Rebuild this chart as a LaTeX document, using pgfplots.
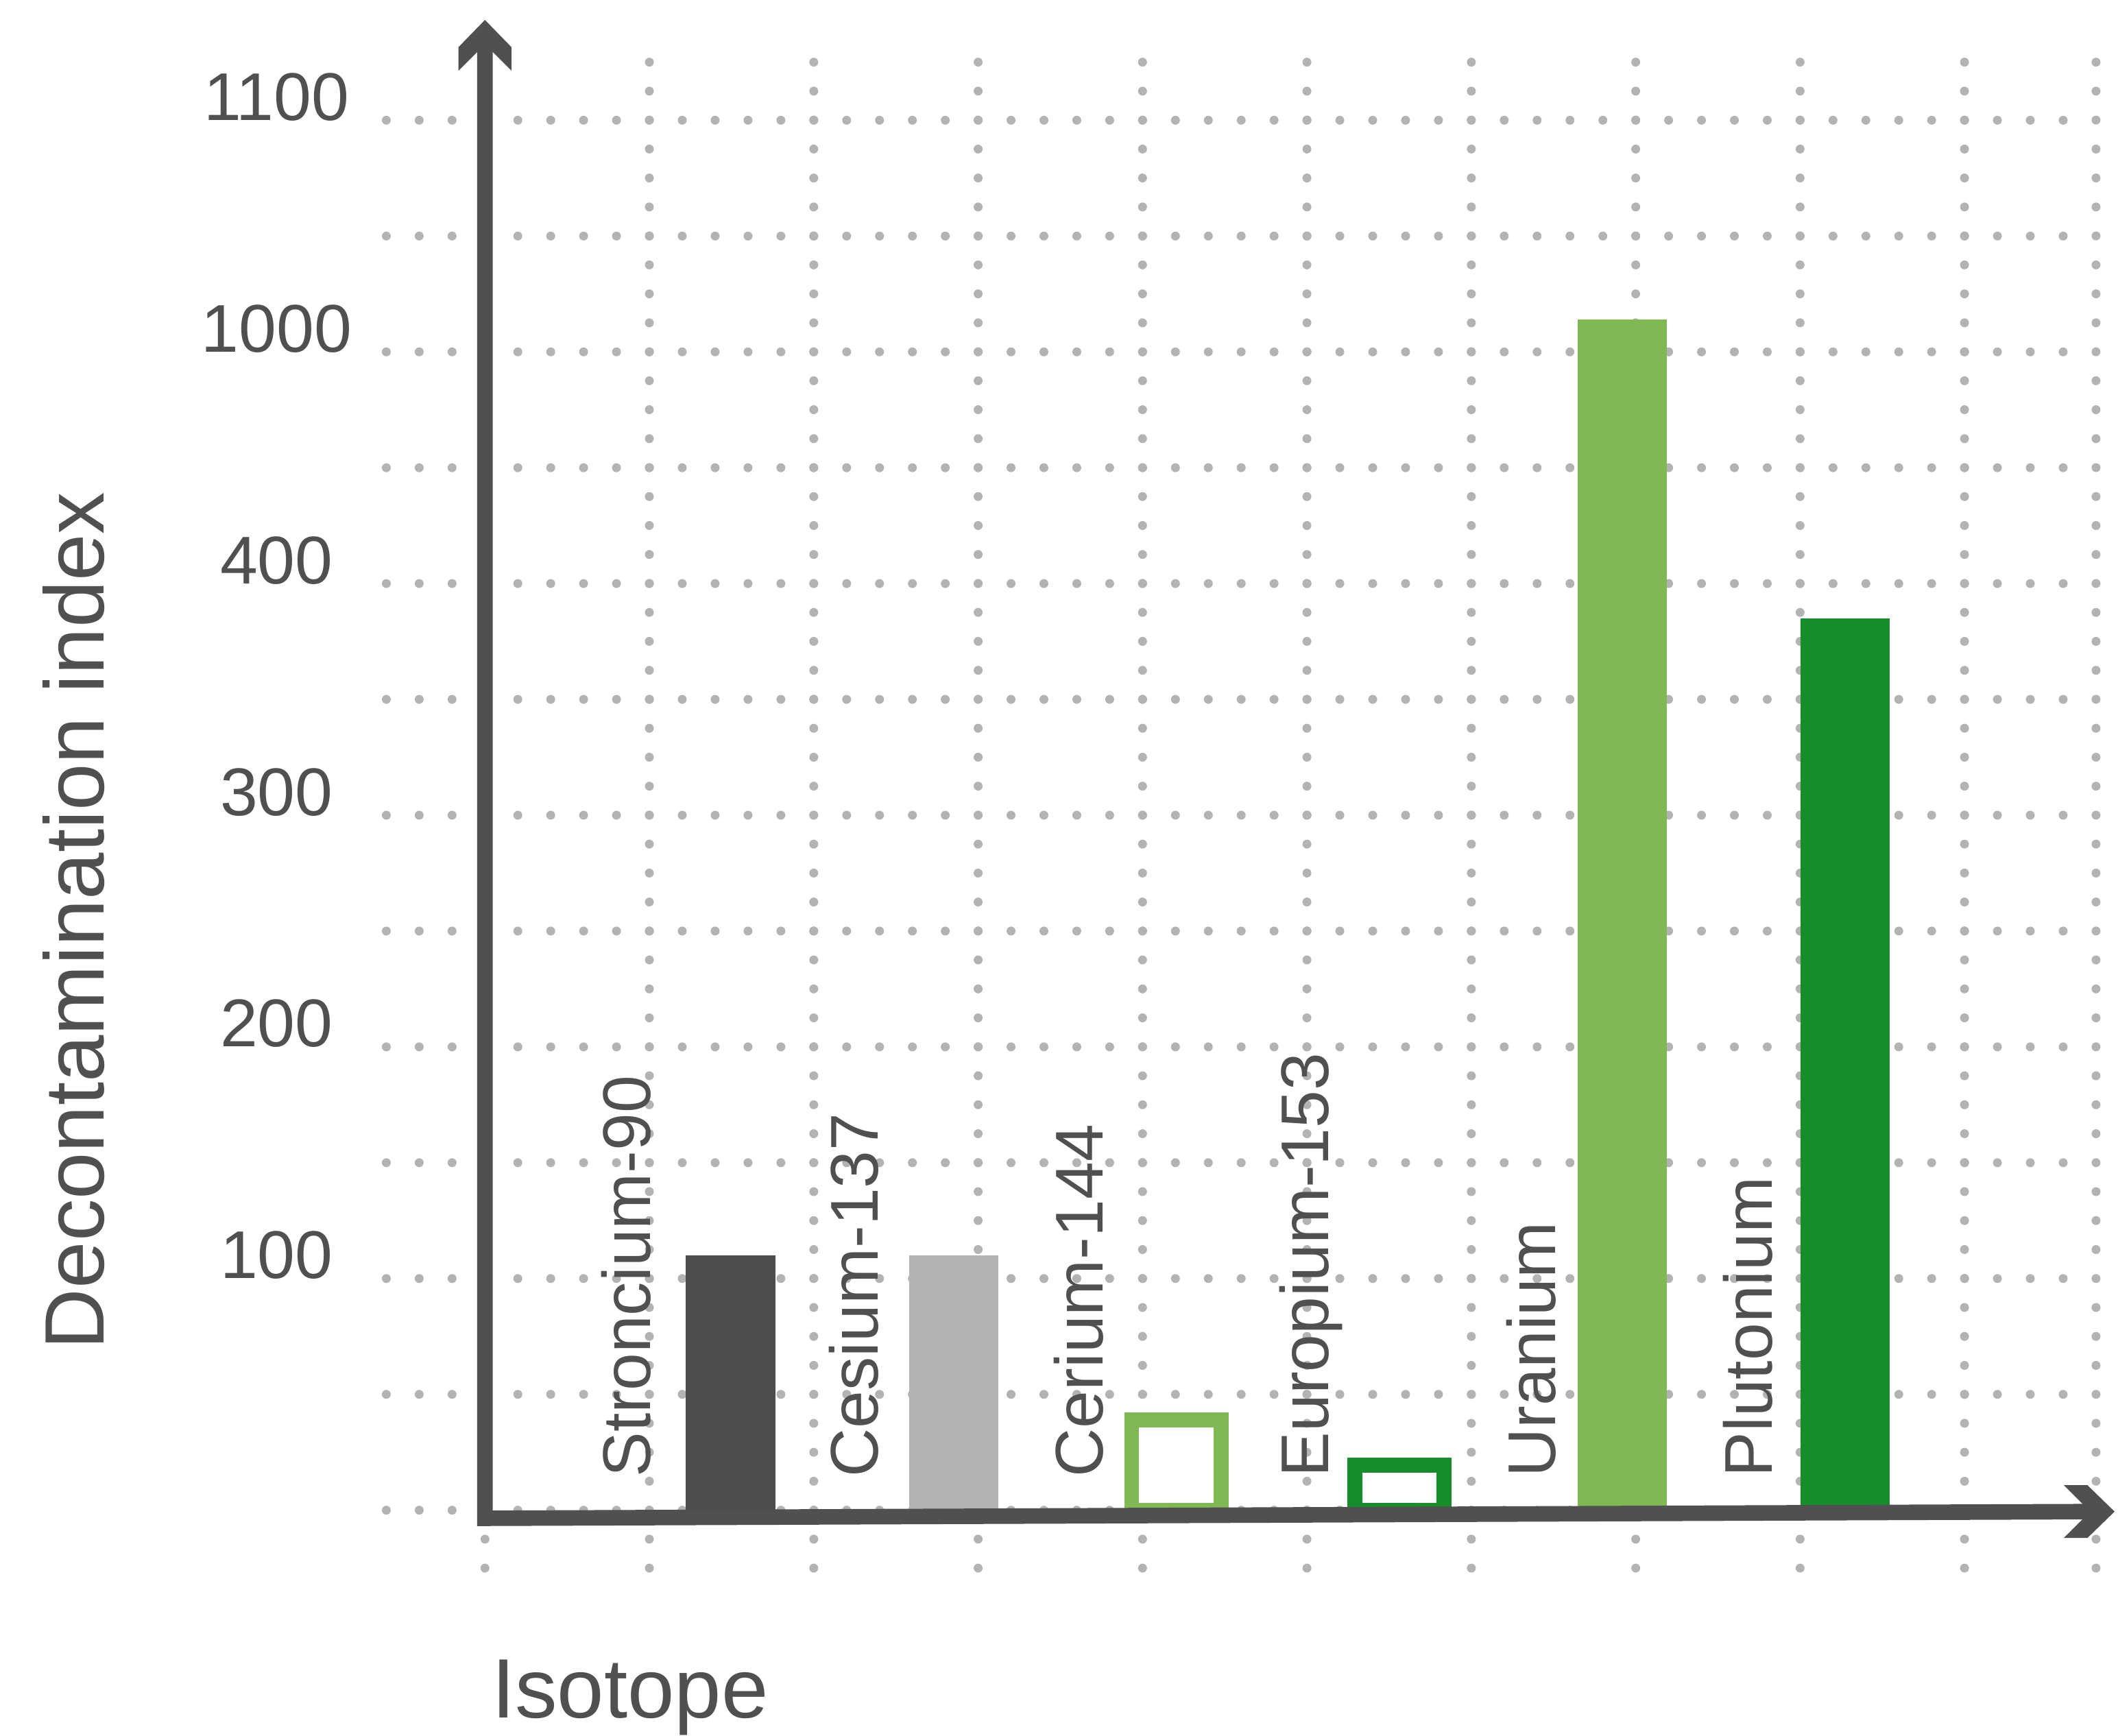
\documentclass[border=0pt]{standalone}
\usepackage{pgfplots}
\pgfplotsset{compat=1.18}
\usepackage{fontspec}
\setmainfont{Liberation Sans}
\definecolor{axiscol}{HTML}{505050}
\definecolor{txt}{HTML}{505050}
\definecolor{dotc}{HTML}{B3B3B3}
\definecolor{darkbar}{HTML}{4D4D4D}
\definecolor{lightbar}{HTML}{B3B3B3}
\definecolor{lgreen}{HTML}{80B953}
\definecolor{dgreen}{HTML}{168C2B}
\begin{document}
\begin{tikzpicture}
\begin{axis}[
  x=30.425pt, y=0.42875pt,
  xmin=-0.6, xmax=9.8, ymin=-25, ymax=637.5,
  axis line style={draw=none},
  tick style={draw=none},
  major tick length=0pt,
  xtick={0,1,2,3,4,5,6,7,8,9,9.8},
  xticklabels={},
  ytick={0,50,...,600},
  yticklabels={{},{},100,{},200,{},300,{},400,{},1000,{},1100},
  grid=major,
  grid style={dotc, line width=1.65pt, line cap=round},
  x grid style={dash pattern=on 0pt off 5.36pt},
  y grid style={dash pattern=on 0pt off 6.085pt},
  yticklabel style={anchor=base, xshift=-20.32pt, inner sep=0pt,
    font=\fontsize{12.5}{15}\selectfont, text=txt},
  /pgf/number format/assume math mode=true,
  clip=false,
]
% bars (Uranium 1014 on the broken scale = 514 in plot units)
\addplot[ybar, bar width=0.543, bar shift=0pt, fill=darkbar, draw=none] coordinates {(1.494,110)};
\addplot[ybar, bar width=0.543, bar shift=0pt, fill=lightbar, draw=none] coordinates {(2.850,110)};
\addplot[ybar, bar width=0.543, bar shift=0pt, fill=white, draw=lgreen, line width=2.75pt] coordinates {(4.206,39)};
\addplot[ybar, bar width=0.543, bar shift=0pt, fill=white, draw=dgreen, line width=2.75pt] coordinates {(5.562,19.5)};
\addplot[ybar, bar width=0.543, bar shift=0pt, fill=lgreen, draw=none] coordinates {(6.918,514)};
\addplot[ybar, bar width=0.543, bar shift=0pt, fill=dgreen, draw=none] coordinates {(8.274,385)};

% axes
\draw[axiscol, line width=2.87pt, line join=miter] (axis cs:0,635.1) -- (axis cs:0,-3.5) -- (axis cs:9.798,-0.6);
\coordinate (ta) at (axis cs:0,643.3);
\coordinate (ra) at (axis cs:9.913,-0.6);
\fill[axiscol] (ta) -- ([shift={(-4.89pt,-5.03pt)}]ta) -- ([shift={(-4.89pt,-9.39pt)}]ta) -- ([shift={(0pt,-4.5pt)}]ta) -- ([shift={(4.89pt,-9.39pt)}]ta) -- ([shift={(4.89pt,-5.03pt)}]ta) -- cycle;
\fill[axiscol] (ra) -- ([shift={(-5.03pt,4.89pt)}]ra) -- ([shift={(-9.39pt,4.89pt)}]ra) -- ([shift={(-4.5pt,0pt)}]ra) -- ([shift={(-9.39pt,-4.89pt)}]ra) -- ([shift={(-5.03pt,-4.89pt)}]ra) -- cycle;

% category labels
\begin{scope}[every node/.style={rotate=90, anchor=base west, inner sep=0pt, font=\fontsize{12.5}{15}\selectfont, text=txt}]
\node at (axis cs:1.005,13.8) {Stroncium-90};
\node at (axis cs:2.390,13.8) {Cesium-137};
\node at (axis cs:3.760,13.8) {Cerium-144};
\node at (axis cs:5.130,13.8) {Europium-153};
\node at (axis cs:6.510,13.8) {Uranium};
\node at (axis cs:7.830,13.8) {Plutonium};
\end{scope}

% axis titles
\node[rotate=90, anchor=base, inner sep=0pt, font=\fontsize{15.6}{18}\selectfont, text=txt] at (axis cs:-2.317,254.5) {Decontamination index};
\node[anchor=base west, inner sep=0pt, font=\fontsize{15.6}{18}\selectfont, text=txt] at (axis cs:0.035,-89.5) {Isotope};

\coordinate (bl) at (axis cs:-2.950,-97.4);
\coordinate (tr) at (axis cs:9.934,651.9);
\end{axis}
\pgfresetboundingbox
\path (bl) rectangle (tr);
\end{tikzpicture}
\end{document}
